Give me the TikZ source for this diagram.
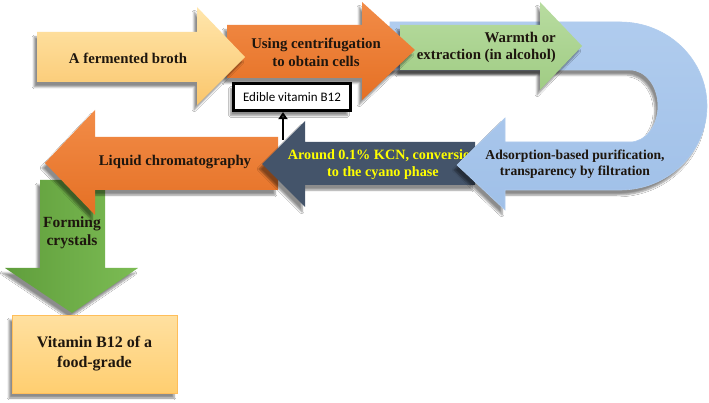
\documentclass[tikz,border=0pt]{standalone}
\usepackage{fontspec}
\setmainfont{Liberation Serif}
\newfontfamily\calib{Carlito}
\usetikzlibrary{shadows.blur,arrows.meta}
\definecolor{yelA}{RGB}{255,230,172}
\definecolor{yelB}{RGB}{250,198,108}
\definecolor{oraA}{RGB}{242,140,72}
\definecolor{oraB}{RGB}{229,112,36}
\definecolor{grnA}{RGB}{184,220,160}
\definecolor{grnB}{RGB}{160,204,132}
\definecolor{bluA}{RGB}{176,204,238}
\definecolor{bluB}{RGB}{160,192,232}
\definecolor{navy}{RGB}{68,84,106}
\definecolor{dgrA}{RGB}{96,158,60}
\definecolor{dgrB}{RGB}{124,188,84}
\definecolor{boxA}{RGB}{255,224,160}
\definecolor{boxB}{RGB}{255,206,112}
\definecolor{txtyel}{RGB}{255,255,0}
\definecolor{ink}{RGB}{30,22,14}
\begin{document}
\begin{tikzpicture}[x=1pt,y=-1pt,
  arrowbody/.style={blur shadow={shadow xshift=-3pt,shadow yshift=-5pt,shadow blur steps=6,shadow opacity=45}},
  lbl/.style={font=\bfseries\fontsize{14.8}{17.5}\selectfont,align=center,text=ink,inner sep=0pt}]
\useasboundingbox (0,0) rectangle (709,403);
\fill[white] (0,0) rectangle (709,403);
% green down arrow
\path[arrowbody,left color=dgrA,right color=dgrB] (40,180) -- (105,180) -- (105,268) -- (138,268) -- (72,313) -- (5,268) -- (40,268) -- cycle;
\node[lbl,font=\bfseries\fontsize{15.5}{18.5}\selectfont] (cryst) at (72,233) {Forming\\crystals};
% orange liquid chromatography
\path[arrowbody,top color=oraA,bottom color=oraB] (278,137) -- (95,137) -- (95,110) -- (45,163) -- (95,215) -- (95,190) -- (278,190) -- cycle;
\node[lbl] (liquid) at (175,162) {Liquid chromatography};
% dark blue
\path[arrowbody,fill=navy] (475,142) -- (305,142) -- (305,121) -- (262,164) -- (305,207) -- (305,185) -- (475,185) -- cycle;
\node[lbl,text=txtyel,font=\bfseries\fontsize{14.2}{17}\selectfont] (kcn) at (383,164.5) {Around 0.1\% KCN, conversion\\to the cyano phase};
% blue U-turn
\path[arrowbody,top color=bluA,bottom color=bluB,draw=bluA,line width=0.6pt] (390,22) -- (620,22) arc[start angle=-90,end angle=90,x radius=87,y radius=84] -- (505,190) -- (505,210) -- (457,165) -- (505,118) -- (505,142) -- (630,142) arc[start angle=90,end angle=-90,x radius=28,y radius=36] -- (390,70) -- cycle;
\node[lbl,font=\bfseries\fontsize{13.6}{16}\selectfont] (adsorb) at (575,164.5) {Adsorption-based purification,\\transparency by filtration};
% green top
\path[arrowbody,top color=grnA,bottom color=grnB] (400,25) -- (540,25) -- (540,2) -- (582,46) -- (540,90) -- (540,70) -- (400,70) -- cycle;
\node[lbl,align=right,anchor=east] (warm) at (556,47.5) {Warmth or\\extraction (in alcohol)};
% orange top
\path[arrowbody,top color=oraA,bottom color=oraB] (227,25) -- (362,25) -- (362,2) -- (415,50) -- (362,100) -- (362,78) -- (227,78) -- cycle;
\node[lbl] (centri) at (316,52.5) {Using centrifugation\\to obtain cells};
% yellow
\path[arrowbody,top color=yelA,bottom color=yelB] (37,32) -- (197,32) -- (197,7) -- (245,57) -- (197,105) -- (197,82) -- (37,82) -- cycle;
\node[lbl] (broth) at (128,58) {A fermented broth};
% edible box
\node[arrowbody,draw=black,line width=3.2pt,fill=white,minimum width=117pt,minimum height=27pt,inner sep=0pt,font=\calib\fontsize{13}{15}\selectfont] (edible) at (292,97) {Edible vitamin B12};
\coordinate (up) at (283,140);
\draw[line width=2.6pt,-{Triangle[length=7pt,width=9pt]}] (up) -- (up |- edible.south);
% final box
\node[arrowbody,top color=boxA,bottom color=boxB,draw=boxB!80!orange,line width=0.5pt,minimum width=165pt,minimum height=78pt,inner sep=0pt,align=center,text=ink,font=\bfseries\fontsize{16}{20}\selectfont] (final) at (94.5,354) {Vitamin B12 of a\\food-grade};
\end{tikzpicture}
\end{document}
